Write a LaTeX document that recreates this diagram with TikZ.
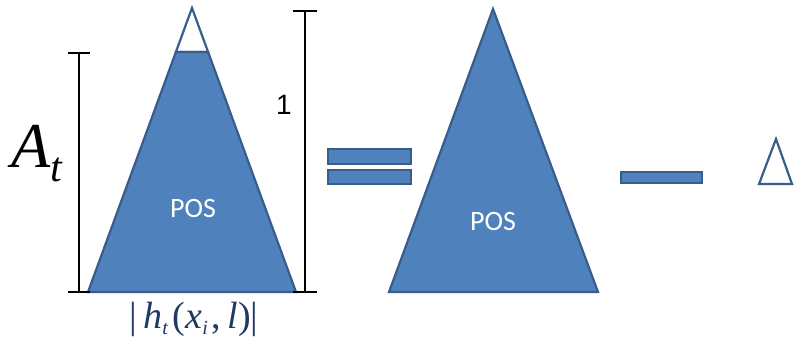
\documentclass[tikz,border=0pt]{standalone}
\usepackage{fontspec}
\setmainfont{Liberation Serif}
\newfontfamily\calibri{Carlito}
\newfontfamily\arialf{Liberation Sans}
\usetikzlibrary{calc}
\definecolor{pfill}{HTML}{4F81BD}
\definecolor{pline}{HTML}{385D8A}
\definecolor{navy}{HTML}{1F3864}
\tikzset{
  shapefill/.style={fill=pfill, draw=pline, line width=2.2pt, line join=miter},
  shapeline/.style={draw=pline, line width=2.2pt, fill=white, line join=miter},
  dimline/.style={draw=black, line width=1.3pt},
  postext/.style={text=white, font=\calibri\fontsize{28}{28}\selectfont, inner sep=0pt},
}
\begin{document}
\begin{tikzpicture}[x=1pt,y=-1pt]
\useasboundingbox (0,0) rectangle (794,347);
% left triangle
\coordinate (la) at (192,8);
\coordinate (lbl) at (88,292);
\coordinate (lbr) at (296,292);
\coordinate (tl) at ($(la)!0.155!(lbl)$);
\coordinate (tr) at ($(la)!0.155!(lbr)$);
\draw[shapeline] (la) -- (tl) -- (tr) -- cycle;
\draw[shapefill] (tl) -- (lbl) -- (lbr) -- (tr) -- cycle;
\node[postext] (pos1) at (193,209) {POS};
% dimension lines
\coordinate (d1t) at (79,53);
\coordinate (d1b) at (79,292);
\draw[dimline] (d1t) -- (d1b);
\draw[dimline] ($(d1t)+(-11,0)$) -- ($(d1t)+(11,0)$);
\draw[dimline] ($(d1b)+(-11,0)$) -- ($(d1b)+(11,0)$);
\coordinate (d2t) at (305,11);
\coordinate (d2b) at (305,292);
\draw[dimline] (d2t) -- (d2b);
\draw[dimline] ($(d2t)+(-12,0)$) -- ($(d2t)+(12,0)$);
\draw[dimline] ($(d2b)+(-12,0)$) -- ($(d2b)+(12,0)$);
\node[inner sep=0pt, font=\arialf\fontsize{28}{28}\selectfont] (one) at (284,105) {1};
\node[inner sep=0pt, anchor=base west] (at) at (11,168)
  {\fontsize{64}{64}\selectfont\itshape A\kern0pt\raisebox{-14pt}{\fontsize{42}{42}\selectfont t}};
\node[inner sep=0pt, text=navy] (hl) at (194,319)
  {\fontsize{38}{38}\selectfont\upshape|\kern6pt\itshape h\kern0pt\raisebox{-6pt}{\fontsize{20}{20}\selectfont t}\kern5pt\upshape(\itshape x\kern0pt\raisebox{-6pt}{\fontsize{20}{20}\selectfont i}\kern4pt\upshape,\kern6pt\itshape l\upshape)|};
% equals
\draw[shapefill] (328,149) rectangle (411,164);
\draw[shapefill] (328,170) rectangle (411,184);
% right triangle
\coordinate (ra) at (493,9);
\coordinate (rbl) at (389,292);
\coordinate (rbr) at (598,292);
\draw[shapefill] (ra) -- (rbl) -- (rbr) -- cycle;
\node[postext] (pos2) at (493,222) {POS};
% minus
\draw[shapefill] (621,172) rectangle (702,183);
% delta
\coordinate (da) at (776,139);
\coordinate (dbl) at (759,184);
\coordinate (dbr) at (792,184);
\draw[shapeline] (da) -- (dbl) -- (dbr) -- cycle;
\end{tikzpicture}
\end{document}
